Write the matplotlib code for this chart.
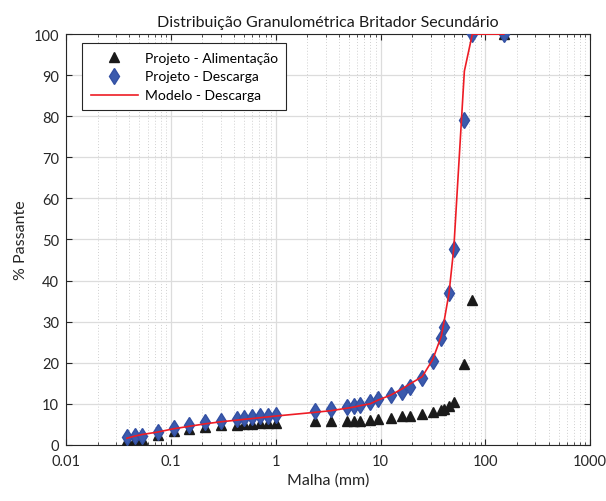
import matplotlib
matplotlib.use("Agg")
import matplotlib.pyplot as plt
from matplotlib.ticker import LogLocator, NullFormatter

plt.rcParams['font.family'] = ['Lato', 'DejaVu Sans']

# malhas das peneiras (mm)
malha = [0.038, 0.045, 0.053, 0.075, 0.106, 0.150, 0.212, 0.300, 0.425, 0.500,
         0.600, 0.710, 0.850, 1.00, 2.36, 3.35, 4.75, 5.60, 6.30, 8.00,
         9.50, 12.5, 16.0, 19.0, 25.0, 31.5, 38.0, 40.0, 45.0, 50.0,
         63.0, 75.0, 150.0]

# % passante - alimentacao (projeto)
alimentacao = [1.2, 1.4, 1.4, 2.4, 3.3, 3.8, 4.4, 4.7, 4.9, 5.0,
               5.1, 5.2, 5.3, 5.4, 5.7, 5.7, 5.8, 5.8, 5.9, 6.1,
               6.3, 6.6, 7.0, 7.1, 7.5, 7.9, 8.5, 8.8, 9.4, 10.4,
               19.7, 35.2, 100.0]

# % passante - descarga (projeto)
descarga = [1.9, 2.2, 2.1, 3.1, 4.1, 4.7, 5.5, 5.9, 6.3, 6.5,
            6.7, 6.9, 7.0, 7.2, 8.2, 8.6, 9.2, 9.4, 9.7, 10.5,
            11.2, 12.0, 12.8, 14.0, 16.3, 20.3, 26.0, 28.6, 36.9, 47.7,
            79.2, 100.0, 100.0]

# % passante - modelo
modelo = [1.6, 2.1, 2.5, 3.1, 3.9, 4.5, 5.1, 5.6, 6.0, 6.2,
          6.4, 6.6, 6.8, 7.0, 7.9, 8.3, 8.9, 9.2, 9.5, 10.0,
          10.9, 12.1, 13.6, 14.8, 16.6, 20.8, 26.5, 29.5, 37.0, 48.0,
          91.0, 100.0, 100.0]

fig = plt.figure(figsize=(6.06, 5.02), dpi=100)
ax = fig.add_axes([0.109, 0.112, 0.865, 0.818])

ax.plot(malha, alimentacao, linestyle='none', marker='^', color='#1a1a1a',
        markersize=6.5, label='Projeto - Alimentação', zorder=3)
ax.plot(malha, descarga, linestyle='none', marker='d', color='#3b5aad',
        markeredgecolor='#3350a3', markersize=8, label='Projeto - Descarga', zorder=4)
ax.plot(malha, modelo, color='#ee1c25', linewidth=1.2, label='Modelo - Descarga', zorder=5)

ax.set_xscale('log')
ax.set_xlim(0.01, 1000)
ax.set_ylim(0, 100)
ax.set_yticks(range(0, 101, 10))
ax.set_xticks([0.01, 0.1, 1, 10, 100, 1000])
ax.set_xticklabels(['0.01', '0.1', '1', '10', '100', '1000'])
ax.xaxis.set_minor_locator(LogLocator(base=10, subs=range(2, 10), numticks=20))
ax.xaxis.set_minor_formatter(NullFormatter())

ax.grid(True, which='major', color='#dcdcdc', linewidth=0.9, linestyle='-')
ax.grid(True, which='minor', axis='x', color='#d0d0d0', linewidth=0.7, linestyle=(0, (1, 2)))
ax.set_axisbelow(True)

ax.tick_params(which='both', direction='in', top=True, right=True, labelsize=10.5, colors='#262626')
ax.tick_params(which='major', length=4)
ax.tick_params(which='minor', length=2.5)
ax.tick_params(axis='x', pad=7)
ax.tick_params(axis='y', pad=5)
for s in ax.spines.values():
    s.set_color('#262626')
    s.set_linewidth(0.8)

ax.set_title('Distribuição Granulométrica Britador Secundário', fontsize=11.5, color='#1a1a1a', pad=6)
ax.set_xlabel('Malha (mm)', fontsize=11.5, color='#262626', labelpad=3)
ax.set_ylabel('% Passante', fontsize=11.5, color='#262626')

leg = ax.legend(loc='upper left', bbox_to_anchor=(0.031, 0.978), borderaxespad=0,
                fontsize=10, frameon=True, fancybox=False, edgecolor='#262626',
                framealpha=1, handlelength=3.4, handletextpad=0.5,
                borderpad=0.6, labelspacing=0.5)
leg.get_frame().set_linewidth(0.8)

fig.savefig('out.png', dpi=100)
